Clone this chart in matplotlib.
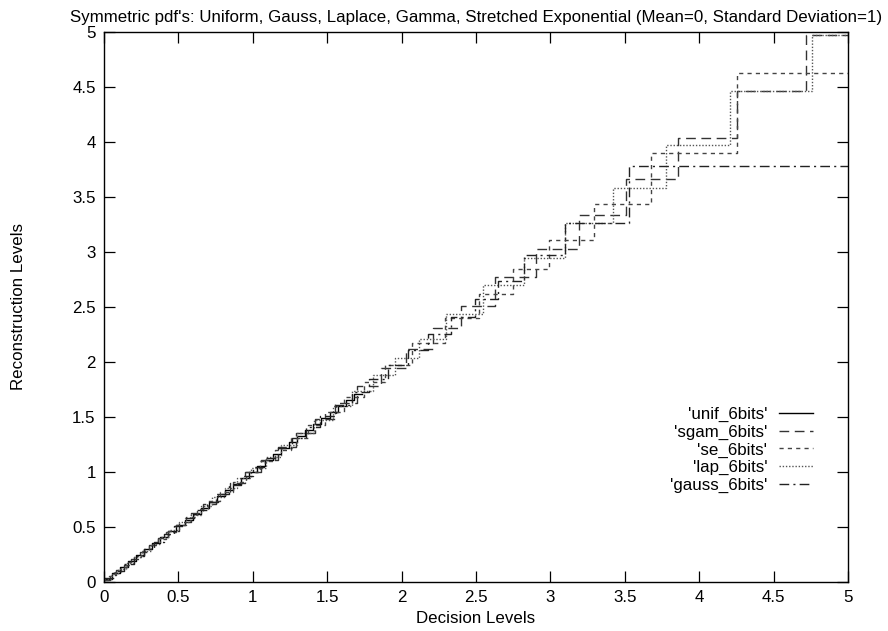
import matplotlib
matplotlib.use("Agg")
import matplotlib.pyplot as plt

# ---- data ----
unif_d = [0.000,0.054,0.108,0.162,0.217,0.271,0.325,0.379,0.433,0.487,0.541,0.595,0.650,0.704,0.758,0.812,
          0.866,0.920,0.974,1.028,1.083,1.137,1.191,1.245,1.299,1.353,1.407,1.461,1.516,1.570,1.624,1.678]
unif_r = [0.027,0.081,0.135,0.189,0.244,0.298,0.352,0.406,0.460,0.514,0.568,0.622,0.677,0.731,0.785,0.839,
          0.893,0.947,1.001,1.055,1.110,1.164,1.218,1.272,1.326,1.380,1.434,1.488,1.543,1.597,1.651,1.705]
unif_end = 1.732

sgam_d = [0.000,0.040,0.084,0.132,0.184,0.240,0.300,0.364,0.432,0.505,0.583,0.666,0.754,0.848,0.948,1.054,
          1.167,1.288,1.417,1.555,1.703,1.862,2.030,2.210,2.400,2.630,2.900,3.190,3.510,3.860,4.256,4.720]
sgam_r = [0.020,0.062,0.108,0.158,0.212,0.270,0.332,0.398,0.468,0.544,0.624,0.710,0.801,0.898,1.001,1.110,
          1.227,1.352,1.486,1.629,1.782,1.946,2.120,2.305,2.510,2.770,3.030,3.340,3.660,4.040,4.460,4.970]
sgam_end = 5.0

se_d = [0.000,0.036,0.074,0.114,0.157,0.203,0.252,0.304,0.360,0.420,0.484,0.552,0.624,0.700,0.780,0.865,
        0.955,1.050,1.150,1.256,1.368,1.487,1.613,1.747,1.890,2.070,2.290,2.520,2.750,2.990,3.290,3.674,4.256]
se_r = [0.018,0.055,0.094,0.136,0.180,0.228,0.278,0.332,0.390,0.452,0.518,0.588,0.662,0.740,0.822,0.910,
        1.002,1.100,1.203,1.312,1.428,1.550,1.680,1.818,1.975,2.170,2.400,2.620,2.850,3.110,3.440,3.897,4.630]
se_end = 5.0

lap_d = [0.000,0.047,0.096,0.147,0.200,0.256,0.314,0.375,0.439,0.506,0.576,0.650,0.728,0.810,0.897,0.989,
         1.086,1.189,1.298,1.414,1.537,1.668,1.808,1.958,2.118,2.300,2.550,2.820,3.100,3.420,3.780,4.210,4.755]
lap_r = [0.023,0.071,0.121,0.173,0.228,0.285,0.344,0.407,0.472,0.541,0.613,0.689,0.769,0.853,0.943,1.037,
         1.137,1.243,1.356,1.475,1.602,1.738,1.883,2.038,2.209,2.440,2.700,2.950,3.260,3.580,3.970,4.460,4.970]
lap_end = 5.0

gauss_d = [0.000,0.066,0.132,0.199,0.266,0.334,0.403,0.473,0.544,0.616,0.689,0.764,0.841,0.920,1.001,1.085,
           1.172,1.262,1.356,1.454,1.557,1.666,1.782,1.906,2.040,2.180,2.330,2.490,2.650,2.820,3.100,3.530]
gauss_r = [0.033,0.099,0.165,0.232,0.300,0.368,0.438,0.508,0.580,0.652,0.726,0.802,0.880,0.960,1.043,1.128,
           1.217,1.309,1.405,1.505,1.611,1.723,1.843,1.972,2.110,2.255,2.410,2.570,2.735,2.970,3.260,3.785]
gauss_end = 5.0

labels = ["'unif_6bits'", "'sgam_6bits'", "'se_6bits'", "'lap_6bits'", "'gauss_6bits'"]
ticks = [0, 0.5, 1, 1.5, 2, 2.5, 3, 3.5, 4, 4.5, 5]
tick_labels = ["0", "0.5", "1", "1.5", "2", "2.5", "3", "3.5", "4", "4.5", "5"]

# ---- style ----
plt.rcParams['font.family'] = ['Liberation Sans', 'DejaVu Sans']
FS = 12.2

fig = plt.figure(figsize=(8.88, 6.31), dpi=100)
ax = fig.add_axes([104/888, 49/631, 744/888, 550/631])

series = [
    (unif_d, unif_r, unif_end, dict(color='black', linestyle='-', lw=1.0)),
    (sgam_d, sgam_r, sgam_end, dict(color='#333333', linestyle=(0, (7, 4)), lw=1.0)),
    (se_d, se_r, se_end, dict(color='#444444', linestyle=(0, (3, 3)), lw=1.0)),
    (lap_d, lap_r, lap_end, dict(color='#555555', linestyle=(0, (1, 1.3)), lw=1.0)),
    (gauss_d, gauss_r, gauss_end, dict(color='#222222', linestyle=(0, (7, 3, 1.5, 3)), lw=1.0)),
]
for (d, r, end, st), lab in zip(series, labels):
    ax.step(list(d) + [end], list(r) + [r[-1]], where='post', label=lab, **st)

ax.set_xlim(0, 5)
ax.set_ylim(0, 5)
ax.set_xticks(ticks)
ax.set_xticklabels(tick_labels)
ax.set_yticks(ticks)
ax.set_yticklabels(tick_labels)
ax.tick_params(direction='in', length=8, width=0.9, top=True, right=True,
               labelsize=FS, pad=6)
for sp in ax.spines.values():
    sp.set_linewidth(1.0)

ax.set_title("Symmetric pdf's: Uniform, Gauss, Laplace, Gamma, Stretched Exponential (Mean=0, Standard Deviation=1)",
             fontsize=FS, pad=7)
ax.set_xlabel("Decision Levels", fontsize=FS)
ax.set_ylabel("Reconstruction Levels", fontsize=FS)
ax.xaxis.set_label_coords(0.5, -0.052)
ax.yaxis.set_label_coords(-0.105, 0.5)

leg = ax.legend(loc='upper right', bbox_to_anchor=(813/888, (631-407)/631),
                bbox_transform=fig.transFigure, frameon=False, markerfirst=False,
                fontsize=FS, handlelength=2.0, handletextpad=0.7,
                labelspacing=0.15, borderpad=0, borderaxespad=0)

fig.savefig("out.png", dpi=100)
